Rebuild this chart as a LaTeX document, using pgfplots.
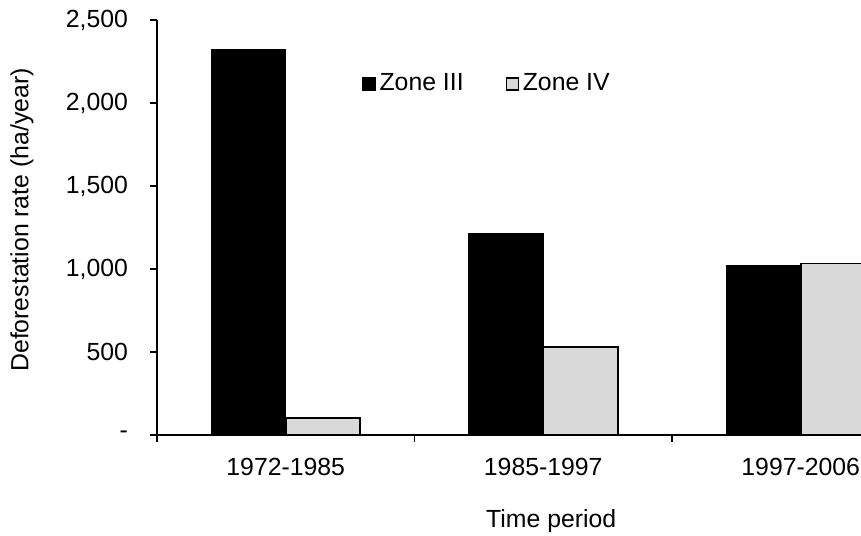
\documentclass[border=0pt]{standalone}
\usepackage{fontspec}
\setmainfont{Liberation Sans}
\usepackage{pgfplots}
\pgfplotsset{compat=1.18}
\definecolor{zonefour}{HTML}{D9D9D9}
\pgfplotsset{sqlegend/.style={legend image code/.code={\draw[##1,line width=0.6bp] (0bp,-3bp) rectangle (6bp,3bp);}}}
\begin{document}
\begin{tikzpicture}[font=\fontsize{12.4bp}{14bp}\selectfont]
\path[use as bounding box] (-78.5bp,-50.5bp) rectangle (352bp,217.5bp);
\begin{axis}[
  at={(0,0)}, anchor=south west,
  scale only axis, width=352bp, height=207.5bp,
  xmin=-0.5, xmax=2.234, ymin=0, ymax=2500,
  axis x line*=bottom, axis y line*=left,
  axis line style={-, line width=0.75bp},
  ybar=0pt, bar width=37.25bp,
  tick align=outside, major tick length=3.5bp,
  tick style={black, line width=0.6bp},
  xtick={-0.5,0.5,1.5}, xticklabels={},
  extra x ticks={0,1,2},
  extra x tick labels={1972-1985,1985-1997,1997-2006},
  extra x tick style={major tick length=0pt, xticklabel style={yshift=-8bp}},
  ytick={0,500,1000,1500,2000,2500},
  yticklabels={{-},{500},{1,000},{1,500},{2,000},{2,500}},
  yticklabel style={xshift=-7.5bp},
  ylabel={Deforestation rate (ha/year)},
  ylabel style={at={(rel axis cs:-0.1918,0.518)}, anchor=center},
  xlabel={Time period},
  xlabel style={at={(rel axis cs:0.56,-0.207)}, anchor=center},
  legend style={draw=none, fill=none, at={(rel axis cs:0.2827,0.846)}, anchor=west,
    /tikz/every even column/.append style={column sep=19bp}},
  legend columns=2,
]
\addplot[fill=black, draw=black, line width=0.6bp, sqlegend] coordinates {(0,2319) (1,1211) (2,1018)};
\addplot[fill=zonefour, draw=black, line width=0.8bp, sqlegend] coordinates {(0,102) (1,530) (2,1032)};
\legend{Zone III, Zone IV}
\end{axis}
\end{tikzpicture}
\end{document}
